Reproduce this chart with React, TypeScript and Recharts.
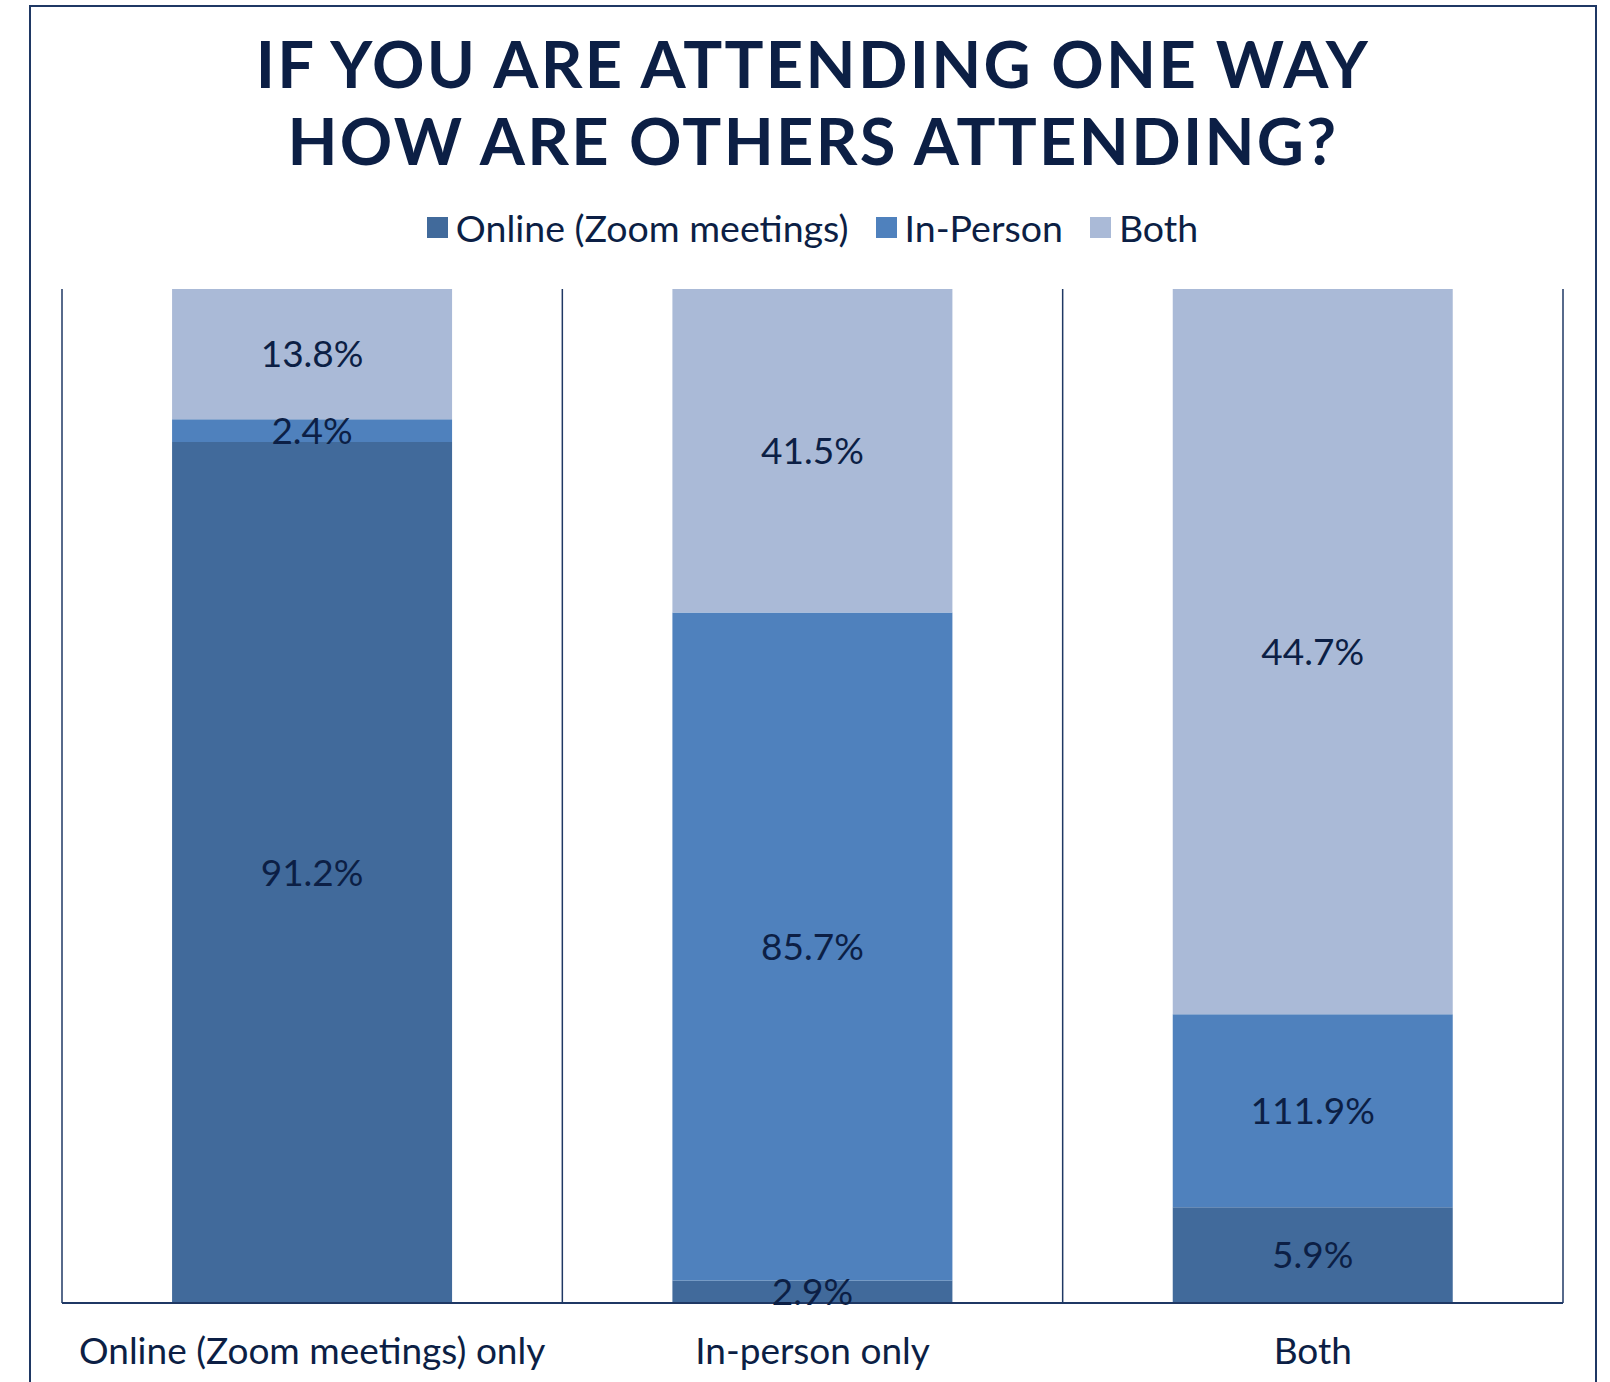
import React from "react";
import { BarChart, Bar, XAxis, YAxis, CartesianGrid, Legend, LabelList } from "recharts";

const categories = ["Online (Zoom meetings) only", "In-person only", "Both"];
const seriesNames = ["Online (Zoom meetings)", "In-Person", "Both"];
const onlineValues = [91.2, 2.9, 5.9];
const inPersonValues = [2.4, 85.7, 11.9];
const bothValues = [13.8, 41.5, 44.7];
// labels as printed on the original chart
const onlineLabels = ["91.2%", "2.9%", "5.9%"];
const inPersonLabels = ["2.4%", "85.7%", "111.9%"];
const bothLabels = ["13.8%", "41.5%", "44.7%"];

const COLORS = ["#416a9b", "#4f81bd", "#aabad7"];
const TEXT = "#0c1f45";
const LINE = "#1f3864";
const FONT = "Lato, 'Open Sans', sans-serif";

const data = categories.map((name, i) => ({
  name,
  online: onlineValues[i],
  inPerson: inPersonValues[i],
  both: bothValues[i],
  onlineLabel: onlineLabels[i],
  inPersonLabel: inPersonLabels[i],
  bothLabel: bothLabels[i],
}));

function renderLegend(props: any) {
  const items = [...(props.payload || [])].sort(
    (a: any, b: any) => seriesNames.indexOf(a.value) - seriesNames.indexOf(b.value)
  );
  return (
    <div
      style={{
        display: "flex",
        justifyContent: "center",
        alignItems: "center",
        height: 40,
        fontFamily: FONT,
        fontSize: 37.5,
        color: TEXT,
      }}
    >
      {items.map((entry: any, i: number) => (
        <span
          key={i}
          style={{ display: "flex", alignItems: "center", marginRight: i < items.length - 1 ? 27 : 0 }}
        >
          <span
            style={{ width: 21, height: 21, background: entry.color, display: "inline-block", marginRight: 8 }}
          />
          {entry.value}
        </span>
      ))}
    </div>
  );
}

export default function App() {
  return (
    <div
      style={{
        position: "absolute",
        left: 0,
        top: 0,
        width: 1610,
        height: 1382,
        overflow: "hidden",
        background: "#fff",
      }}
    >
      <div
        style={{
          position: "absolute",
          left: 29,
          top: 5,
          width: 1564,
          height: 1400,
          border: `2px solid ${LINE}`,
        }}
      />
      <div
        style={{
          position: "absolute",
          left: 31,
          width: 1564,
          top: 25,
          textAlign: "center",
          fontFamily: FONT,
          fontWeight: 700,
          fontSize: 65,
          lineHeight: "77px",
          letterSpacing: 2.3,
          color: TEXT,
        }}
      >
        IF YOU ARE ATTENDING ONE WAY
        <br />
        HOW ARE OTHERS ATTENDING?
      </div>
      <div style={{ position: "absolute", left: 0, top: 0 }}>
        <BarChart
          width={1610}
          height={1382}
          data={data}
          stackOffset="expand"
          barCategoryGap="22%"
          margin={{ top: 205, right: 47, bottom: 49, left: 62 }}
        >
          <CartesianGrid
            horizontal={false}
            vertical
            stroke={LINE}
            strokeWidth={1.5}
            verticalCoordinatesGenerator={({ offset }: any) =>
              [0, 1, 2, 3].map((i) => offset.left + (i * offset.width) / categories.length)
            }
          />
          <XAxis
            dataKey="name"
            interval={0}
            tickLine={false}
            axisLine={{ stroke: LINE, strokeWidth: 2 }}
            tickMargin={29}
            tick={{ fill: TEXT, fontSize: 37, fontFamily: FONT }}
          />
          <YAxis hide domain={[0, 1]} />
          <Legend
            verticalAlign="top"
            content={renderLegend}
            wrapperStyle={{ top: 207, height: 84 }}
          />
          <Bar dataKey="online" name={seriesNames[0]} stackId="a" fill={COLORS[0]} isAnimationActive={false}>
            <LabelList dataKey="onlineLabel" position="center" fill={TEXT} fontSize={37} fontFamily={FONT} />
          </Bar>
          <Bar dataKey="inPerson" name={seriesNames[1]} stackId="a" fill={COLORS[1]} isAnimationActive={false}>
            <LabelList dataKey="inPersonLabel" position="center" fill={TEXT} fontSize={37} fontFamily={FONT} />
          </Bar>
          <Bar dataKey="both" name={seriesNames[2]} stackId="a" fill={COLORS[2]} isAnimationActive={false}>
            <LabelList dataKey="bothLabel" position="center" fill={TEXT} fontSize={37} fontFamily={FONT} />
          </Bar>
        </BarChart>
      </div>
    </div>
  );
}
